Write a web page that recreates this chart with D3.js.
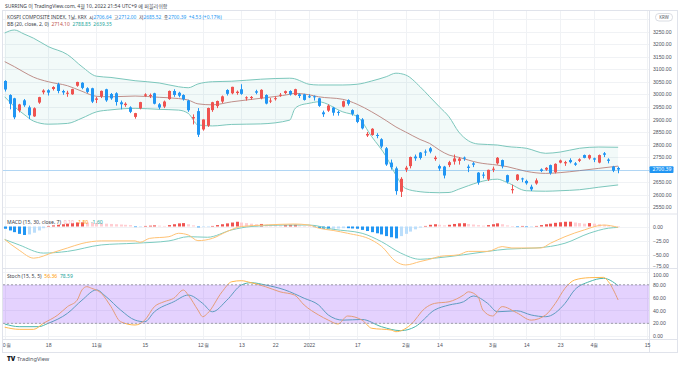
<!DOCTYPE html>
<html><head><meta charset="utf-8">
<script src="https://cdn.jsdelivr.net/npm/d3@7"></script>
<style>
html,body{margin:0;padding:0;background:#fff;}
svg{display:block;font-family:"Noto Sans","Noto Sans CJK KR",sans-serif;}
</style></head><body>
<svg id="c" width="680" height="366"></svg>
<script>
// ---------------- DATA ----------------
const dates = [
 "2021-10-01","2021-10-05","2021-10-06","2021-10-07","2021-10-08","2021-10-12","2021-10-13","2021-10-14","2021-10-15","2021-10-18",
 "2021-10-19","2021-10-20","2021-10-21","2021-10-22","2021-10-25","2021-10-26","2021-10-27","2021-10-28","2021-10-29","2021-11-01",
 "2021-11-02","2021-11-03","2021-11-04","2021-11-05","2021-11-08","2021-11-09","2021-11-10","2021-11-11","2021-11-12","2021-11-15",
 "2021-11-16","2021-11-17","2021-11-18","2021-11-19","2021-11-22","2021-11-23","2021-11-24","2021-11-25","2021-11-26","2021-11-29",
 "2021-11-30","2021-12-01","2021-12-02","2021-12-03","2021-12-06","2021-12-07","2021-12-08","2021-12-09","2021-12-10","2021-12-13",
 "2021-12-14","2021-12-15","2021-12-16","2021-12-17","2021-12-20","2021-12-21","2021-12-22","2021-12-23","2021-12-24","2021-12-27",
 "2021-12-28","2021-12-29","2021-12-30","2022-01-03","2022-01-04","2022-01-05","2022-01-06","2022-01-07","2022-01-10","2022-01-11",
 "2022-01-12","2022-01-13","2022-01-14","2022-01-17","2022-01-18","2022-01-19","2022-01-20","2022-01-21","2022-01-24","2022-01-25",
 "2022-01-26","2022-01-27","2022-01-28","2022-02-03","2022-02-04","2022-02-07","2022-02-08","2022-02-09","2022-02-10","2022-02-11",
 "2022-02-14","2022-02-15","2022-02-16","2022-02-17","2022-02-18","2022-02-21","2022-02-22","2022-02-23","2022-02-24","2022-02-25",
 "2022-02-28","2022-03-02","2022-03-03","2022-03-04","2022-03-07","2022-03-08","2022-03-10","2022-03-11","2022-03-14","2022-03-15",
 "2022-03-16","2022-03-17","2022-03-18","2022-03-21","2022-03-22","2022-03-23","2022-03-24","2022-03-25","2022-03-28","2022-03-29",
 "2022-03-30","2022-03-31","2022-04-01","2022-04-04","2022-04-05","2022-04-06","2022-04-07","2022-04-08"];
const open = [
 3053,2997,2984,2935,2976,2948,2912,2967,3008,3016, 3021,3040,3013,3002,3000,3034,3046,3024,3024,2978,
 2992,3020,3001,3004,2968,2957,2948,2910,2944,2994, 2993,3004,2960,2951,2981,3013,3006,2997,2975,2904,
 2933,2860,2875,2937,2953,2971,3017,3004,3005,3020, 2984,2985,3012,2984,2997,2972,2981,2995,3005,3013,
 2997,3000,3000,2992,2992,2984,2928,2935,2947,2930, 2951,2977,2937,2918,2900,2836,2838,2838,2821,2785,
 2728,2705,2612,2700,2714,2752,2768,2772,2785,2742, 2714,2712,2718,2732,2735,2748,2712,2725,2688,2680,
 2661,2700,2725,2738,2678,2618,2659,2665,2655,2632, 2645,2701,2700,2718,2690,2728,2725,2738,2725,2735,
 2758,2745,2745,2728,2765,2740,2712,2706.64];
const high = [
 3056,3000,2986,2962,2981,2955,2948,2990,3020,3020, 3032,3046,3018,3014,3022,3050,3048,3028,3026,2990,
 3015,3022,3005,3008,2975,2968,2952,2926,2970,3004, 3003,3006,2965,2975,3015,3020,3010,3000,2978,2920,
 2945,2900,2947,2970,2975,2995,3020,3030,3015,3040, 2992,2993,3018,3020,3000,2985,2992,3005,3015,3016,
 3022,3004,3002,3000,2995,2986,2935,2960,2950,2935, 2975,2980,2940,2920,2905,2850,2865,2845,2825,2790,
 2740,2712,2670,2715,2752,2760,2770,2780,2790,2755, 2720,2715,2735,2760,2750,2752,2720,2730,2690,2690,
 2700,2712,2750,2740,2680,2640,2682,2668,2660,2640, 2665,2705,2710,2720,2725,2740,2735,2745,2730,2745,
 2760,2760,2748,2760,2770,2745,2715,2712.00];
const low = [
 3011,2940,2901,2928,2950,2901,2910,2962,3000,2995, 3015,3004,2998,2990,2998,3030,3020,3005,2965,2965,
 2985,2970,2978,2955,2940,2950,2925,2903,2940,2990, 2985,2960,2940,2945,2978,2990,2988,2975,2930,2880,
 2830,2855,2870,2930,2945,2965,2995,3000,2998,2998, 2975,2978,3000,2980,2960,2965,2975,2990,3000,2995,
 2995,2985,2975,2985,2975,2950,2910,2930,2915,2915, 2948,2955,2915,2885,2860,2830,2835,2825,2785,2715,
 2700,2600,2591,2690,2705,2735,2740,2755,2765,2735, 2695,2665,2710,2720,2720,2735,2690,2710,2640,2665,
 2655,2690,2720,2705,2645,2605,2655,2650,2640,2615, 2640,2690,2695,2680,2685,2725,2715,2725,2715,2730,
 2745,2740,2730,2725,2750,2725,2690,2685.52];
const close = [
 3019.18,2962.17,2908.31,2959.46,2956.30,2916.38,2944.41,2988.64,3015.06,3006.68,
 3029.04,3013.13,3007.33,3006.16,3020.54,3049.08,3025.49,3009.55,2970.68,2983.22,
 3013.49,2975.71,2983.72,2969.27,2960.20,2962.46,2930.17,2924.92,2968.80,2999.52,
 2997.21,2962.42,2947.38,2971.02,3013.25,2997.33,2994.29,2980.27,2936.44,2909.32,
 2839.01,2899.72,2945.27,2968.33,2973.25,2991.72,3001.80,3029.57,3010.23,3001.66,
 2987.95,2989.39,3006.41,3017.73,2963.00,2975.03,2984.48,2998.17,3012.43,2999.55,
 3020.24,2993.29,2977.65,2988.77,2989.24,2953.97,2920.53,2954.89,2926.72,2927.38,
 2972.48,2962.09,2921.92,2890.10,2864.24,2842.28,2862.68,2834.29,2792.00,2720.39,
 2709.24,2614.49,2663.34,2707.82,2750.26,2745.06,2746.47,2768.85,2771.93,2747.71,
 2704.48,2676.54,2729.68,2744.52,2744.09,2743.80,2706.79,2719.53,2648.80,2676.76,
 2699.18,2703.52,2747.08,2713.43,2651.31,2622.40,2680.32,2661.28,2645.65,2621.53,
 2657.13,2694.51,2707.02,2686.05,2722.99,2736.67,2729.98,2729.66,2719.42,2741.07,
 2746.74,2757.65,2739.85,2757.90,2759.20,2735.03,2695.86,2700.39];

// Bollinger Bands (20, close, 2) at these bar indices
const bbIdx   = [0,2,4,6,9,13,16,19,22,27,32,36,38,40,43,47,53,59,60,61,63,65,70,73,76,79,81,83,86,88,90,92,94,96,98,102,104,108,112,115,119,123,127];
const bbUpper = [3244,3256,3240,3223,3190,3158,3110,3072,3067,3054,3045,3030,3026,3041,3050,3052,3060,3064,3062,3055,3040,3037,3037,3040,3053,3070,3084,3077,3030,2990,2950,2910,2850,2815,2802,2798,2792,2785,2765,2770,2785,2790,2789];
const bbMid   = [3130,3110,3088,3068,3050,3034,3012,2992,2990,2993,2988,2983,2977,2962,2958,2970,2984,3000,3004,3003,2998,2990,2980,2960,2930,2895,2870,2850,2820,2804,2778,2758,2749,2738,2728,2718,2712,2693,2685,2688,2696,2705,2714];
const bbLower = [2990,2951,2920,2893,2881,2884,2905,2930,2938,2944,2940,2937,2924,2878,2874,2880,2882,2897,2940,2955,2964,2970,2930,2911,2831,2751,2678,2625,2612,2609,2608,2609,2622,2636,2649,2662,2649,2616,2614,2616,2620,2630,2639];

// MACD (15, 30, close, 7)
const macdIdx = [0,3,6,10,13,16,20,27,28,30,34,36,38,40,43,46,49,54,60,63,65,68,71,76,78,81,83,86,88,90,94,96,100,103,105,109,111,113,116,120,124,127];
const macdVal = [-23,-42,-56,-46,-38,-30,-25.5,-25.5,-28,-21,-18,-12,-15,-25,-21,-9,0,2.6,4.4,2.6,-3,-7,-12,-24,-35,-62,-68,-62,-58,-53,-50,-44,-44,-35.5,-38,-38,-38,-29.6,-18,-6,2.6,-1.5];
const sigIdx  = [0,3,8,13,20,27,34,38,42,47,51,58,63,68,74,78,82,86,89,95,100,104,110,116,121,125,127];
const sigVal  = [-23,-32.6,-47,-44,-32.6,-29.6,-25.5,-18,-19,-6,0,2.6,2.6,-5,-12,-26.8,-47,-58,-56,-50,-44,-40,-38,-29.6,-12,-3,-1.6];
const histVal = [
 -4,-7,-10,-13,-15,-14,-11,-7,-3,1, 2,3,4,5,6,7,7.4,7,6.5,6, 5.5,5,4.5,4,3.5,3,2.5,-1,-0.5,1,
 1.5,2,1.5,1,2.5,4,5.5,6,4,2, -1.5,-1,-0.3,1,2.5,4,5.5,7,8.4,7, 6,5,4,4.5,3.5,3,2.5,2,2.5,3,
 3.2,2,1,0.5,-1,-2.5,-4,-5,-4,-3.5, -3,-3,-3.5,-4,-6,-8,-10,-12,-14,-17, -19,-21,-17,-13,-9,-5,-2,1,3,4,
 3,2,3,4.5,5.6,5.8,4.5,3.5,2.5,1.5, 2.5,4,5.6,4,2,0.5,-0.5,1,-1,-0.3, 1,2.5,4,5,6.5,7.5,8.4,8.5,7,6,
 5,6,5,4,3,2,1,0.1];

// Stochastic (15, 5, 5)
const kIdx = [0,3,6,8,11,13,15,16,17,18,20,22,24,27,29,31,33,35,37,38,40,41,42,45,47,49,51,54,57,60,62,65,67,69,71,74,76,80,81,84,87,89,92,95,96,98,99,101,103,106,109,112,114,116,118,121,124,125,127];
const kVal = [14,10.7,10.7,20,33,46,56,72,77,74.5,66.7,46,22.5,17.4,25,46,53.6,59,71.8,64,40.7,30.3,35.6,69,84.7,86.3,83.2,77,69,64,48.5,33,25,19,31.4,25,12.3,9.6,7,17.4,43.4,51,53.6,64,69,61.4,40.7,31.4,46,36.5,25,33,51,74.5,87.4,91,91.5,84.7,56.36];
const dIdx = [0,3,7,9,13,16,19,21,24,27,29,31,35,38,41,43,46,49,51,54,58,62,65,67,70,74,78,82,85,89,92,95,97,100,102,106,109,112,116,118,121,124,127];
const dVal = [19,14.8,14.8,20,35.6,56,72,61.4,40.7,25,22.5,38,53.6,64,51,38,56,79.6,83.2,79.6,72,59,48.5,33,25,26,14.8,8.6,14.8,40.7,48.5,53.6,62.5,51,38,39.6,33,30.3,51,72,84.7,90,78.59];

// Axes ticks / labels
const priceTicks = [2550,2600,2650,2700,2750,2800,2850,2900,2950,3000,3050,3100,3150,3200,3250];
const macdTicks  = [0,-25,-50,-75];
const stochTicks = [0,20,40,60,80,100];
const timeIdx = [0,9,19,29,41,49,56,63,73,83,90,101,108,115,122,133];
const timeLbl = ["10월","18","11월","15","12월","13","22","2022","17","2월","14","3월","14","23","4월","15"];

// ---------------- DRAW ----------------
const svg = d3.select("#c");
const UP="#ef5350", DN="#2196f3";
const plotL=3, plotR=649;
const xs = d3.scaleLinear().domain([0,132]).range([4.7, 4.7+132*4.83]);
const yP = d3.scaleLinear().domain([2550,3250]).range([207.3,31.5]);
const yM = d3.scaleLinear().domain([-75,0]).range([268.9,226.5]);
const yS = d3.scaleLinear().domain([0,100]).range([336.2,271.9]);
const panes = {main:[11,214], macd:[214,268.5], stoch:[268.5,339.5]};

// measure helper: font size giving a target width
function sizeFor(str, target){
  const t = svg.append("text").attr("font-size",10).text(str);
  const w = t.node().getComputedTextLength(); t.remove();
  return 10*target/w;
}

svg.append("rect").attr("width",680).attr("height",366).attr("fill","#fff");
const defs = svg.append("defs");
Object.entries(panes).forEach(([k,[a,b]])=>{
  defs.append("clipPath").attr("id","clip-"+k).append("rect")
    .attr("x",plotL).attr("y",a).attr("width",plotR-plotL).attr("height",b-a);
});
defs.append("clipPath").attr("id","clip-time").append("rect").attr("x",plotL).attr("y",339).attr("width",655-plotL).attr("height",14);

const grid = svg.append("g").attr("stroke","#f0f2f5").attr("stroke-width",1);
timeIdx.forEach(i=>{ const x=Math.round(xs(i))+0.5; if(x>plotR) return;
  grid.append("line").attr("x1",x).attr("x2",x).attr("y1",11).attr("y2",339.5); });
priceTicks.concat([3300]).forEach(p=>{ const y=Math.round(yP(p))+0.5;
  grid.append("line").attr("x1",plotL).attr("x2",plotR).attr("y1",y).attr("y2",y).attr("clip-path","url(#clip-main)"); });
macdTicks.forEach(p=>{ const y=Math.round(yM(p))+0.5;
  grid.append("line").attr("x1",plotL).attr("x2",plotR).attr("y1",y).attr("y2",y).attr("clip-path","url(#clip-macd)"); });
stochTicks.forEach(p=>{ const y=Math.round(yS(p))+0.5;
  grid.append("line").attr("x1",plotL).attr("x2",plotR).attr("y1",y).attr("y2",y).attr("clip-path","url(#clip-stoch)"); });

// ---- main pane
const gMain = svg.append("g").attr("clip-path","url(#clip-main)");
const bb = bbIdx.map((d,k)=>({i:d,u:bbUpper[k],m:bbMid[k],l:bbLower[k]}));
const cv = d3.curveMonotoneX;
gMain.append("path").datum(bb).attr("fill","#26a69a").attr("fill-opacity",0.06)
  .attr("d",d3.area().curve(cv).x(d=>xs(d.i)).y0(d=>yP(d.l)).y1(d=>yP(d.u)));
gMain.append("path").datum(bb).attr("fill","none").attr("stroke","#7cc7bc").attr("stroke-width",1)
  .attr("d",d3.line().curve(cv).x(d=>xs(d.i)).y(d=>yP(d.u)));
gMain.append("path").datum(bb).attr("fill","none").attr("stroke","#7cc7bc").attr("stroke-width",1)
  .attr("d",d3.line().curve(cv).x(d=>xs(d.i)).y(d=>yP(d.l)));
gMain.append("path").datum(bb).attr("fill","none").attr("stroke","#bf8f8a").attr("stroke-width",1)
  .attr("d",d3.line().curve(cv).x(d=>xs(d.i)).y(d=>yP(d.m)));

// price line
const lastC = close[close.length-1];
gMain.append("line").attr("x1",plotL).attr("x2",plotR)
  .attr("y1",Math.round(yP(lastC))+0.5).attr("y2",Math.round(yP(lastC))+0.5)
  .attr("stroke",DN).attr("stroke-opacity",0.3).attr("stroke-width",1);

// candles
const candles = dates.map((d,i)=>({i,o:open[i],h:high[i],l:low[i],c:close[i]}));
const cg = gMain.selectAll("g.c").data(candles).join("g");
cg.append("line").attr("x1",d=>Math.round(xs(d.i))+0.5).attr("x2",d=>Math.round(xs(d.i))+0.5)
  .attr("y1",d=>yP(d.h)).attr("y2",d=>yP(d.l)).attr("stroke",d=>d.c>=d.o?UP:DN).attr("stroke-width",1);
cg.append("rect").attr("x",d=>Math.round(xs(d.i))-1).attr("width",3)
  .attr("y",d=>yP(Math.max(d.o,d.c))).attr("height",d=>Math.max(1,Math.abs(yP(d.o)-yP(d.c))))
  .attr("fill",d=>d.c>=d.o?UP:DN);

// ---- MACD pane
const gM = svg.append("g").attr("clip-path","url(#clip-macd)");
gM.selectAll("rect").data(histVal).join("rect")
  .attr("x",(d,i)=>Math.round(xs(i))-1).attr("width",3)
  .attr("y",d=>Math.min(yM(d),yM(0))).attr("height",d=>Math.max(0.6,Math.abs(yM(d)-yM(0))))
  .attr("fill",(d,i)=>{const p=i>0?histVal[i-1]:d;
     if(d>=0) return d>=p?"#ef5350":"#ffcdd2"; return d<=p?"#2196f3":"#bbdefb";});
gM.append("path").datum(sigIdx.map((d,k)=>[d,sigVal[k]])).attr("fill","none").attr("stroke","#7ccbc0").attr("stroke-width",1)
  .attr("d",d3.line().curve(cv).x(d=>xs(d[0])).y(d=>yM(d[1])));
gM.append("path").datum(macdIdx.map((d,k)=>[d,macdVal[k]])).attr("fill","none").attr("stroke","#ffc275").attr("stroke-width",1)
  .attr("d",d3.line().curve(cv).x(d=>xs(d[0])).y(d=>yM(d[1])));

// ---- Stoch pane
const gS = svg.append("g").attr("clip-path","url(#clip-stoch)");
gS.append("path").datum(dIdx.map((d,k)=>[d,dVal[k]])).attr("fill","none").attr("stroke","#4db6ac").attr("stroke-width",1)
  .attr("d",d3.line().curve(cv).x(d=>xs(d[0])).y(d=>yS(d[1])));
gS.append("path").datum(kIdx.map((d,k)=>[d,kVal[k]])).attr("fill","none").attr("stroke","#ffb74d").attr("stroke-width",1)
  .attr("d",d3.line().curve(cv).x(d=>xs(d[0])).y(d=>yS(d[1])));
gS.append("rect").attr("x",plotL).attr("width",plotR-plotL).attr("y",yS(80)).attr("height",yS(20)-yS(80))
  .attr("fill","rgb(149,74,250)").attr("fill-opacity",0.25);
[80,20].forEach(v=>gS.append("line").attr("x1",plotL).attr("x2",plotR).attr("y1",yS(v)).attr("y2",yS(v))
  .attr("stroke","#8c8c96").attr("stroke-width",0.8).attr("stroke-dasharray","2,2"));

// ---- frame / separators
const sep = svg.append("g").attr("stroke","#e0e3eb").attr("stroke-width",1).attr("fill","none");
sep.append("rect").attr("x",2.5).attr("y",10.5).attr("width",675).attr("height",342);
sep.append("line").attr("x1",649.5).attr("x2",649.5).attr("y1",10.5).attr("y2",352.5);
[214,268.5,339.5].forEach(y=>sep.append("line").attr("x1",2.5).attr("x2",677.5).attr("y1",y).attr("y2",y));

// ---- axes
const axFs = sizeFor("3250.00", 19);
function styleAxis(g){ g.select(".domain").remove();
  g.selectAll("text").attr("font-size",axFs).attr("fill","#50535e"); }
svg.append("g").attr("transform","translate(651,0)")
  .call(d3.axisRight(yP).tickValues(priceTicks).tickFormat(d3.format(".2f")).tickSize(0).tickPadding(2)).call(styleAxis);
const gMacdAx = svg.append("g").attr("transform","translate(651,0)")
  .call(d3.axisRight(yM).tickValues(macdTicks).tickFormat(d3.format(".2f")).tickSize(0).tickPadding(2)).call(styleAxis);
gMacdAx.selectAll(".tick").filter(d=>d===-75).select("text").attr("dy","-0.25em");
const gStAx = svg.append("g").attr("transform","translate(651,0)")
  .call(d3.axisRight(yS).tickValues(stochTicks).tickFormat(d3.format(".2f")).tickSize(0).tickPadding(2)).call(styleAxis);
gStAx.selectAll(".tick").filter(d=>d===100).select("text").attr("dy","0.95em");
svg.append("g").attr("clip-path","url(#clip-time)")
  .append("g").attr("transform","translate(0,340)")
  .call(d3.axisBottom(xs).tickValues(timeIdx).tickFormat((d,k)=>timeLbl[k]).tickSize(0).tickPadding(3)).call(styleAxis);

// KRW box
svg.append("rect").attr("x",655.5).attr("y",13.5).attr("width",17).attr("height",7.5).attr("rx",3.5)
  .attr("fill","#fff").attr("stroke","#d1d4dc").attr("stroke-width",0.8);
svg.append("text").attr("x",664).attr("y",19).attr("text-anchor","middle").attr("font-size",axFs*0.85).attr("fill","#50535e").text("KRW");
// last price label
svg.append("rect").attr("x",649.5).attr("y",yP(lastC)-3.4).attr("width",24).attr("height",6.8).attr("rx",1).attr("fill",DN);
svg.append("text").attr("x",652.5).attr("y",yP(lastC)+1.9).attr("font-size",axFs).attr("fill","#fff").text(d3.format(".2f")(lastC));

// ---- legends (each line sized to the reference's width)
function legend(x,y,parts,width){
  const t=svg.append("text").attr("x",x).attr("y",y).attr("font-size",10).attr("xml:space","preserve");
  parts.forEach(([s,c])=>t.append("tspan").attr("fill",c).text(s));
  const w=t.node().getComputedTextLength();
  t.attr("font-size",10*width/w);
}
const TXT="#3a3d47";
legend(5,8,[["SURRING 이 TradingView.com, 4월 10, 2022 21:54 UTC+9 에 퍼블리쉬함",TXT]],163);
legend(7,18.8,[["KOSPI COMPOSITE INDEX, 1날, KRX  ",TXT],["시",TXT],["2706.64  ",DN],["고",TXT],["2712.00  ",DN],
  ["저",TXT],["2685.52  ",DN],["종",TXT],["2700.39  ",DN],["+4.53 (+0.17%)",DN]],215);
legend(7,26.2,[["BB (20, close, 2, 0)  ",TXT],["2714.10  ","#c0554c"],["2788.85  ","#26a69a"],["2639.35","#26a69a"]],105);
legend(7,224.4,[["MACD (15, 30, close, 7)  ",TXT],["0.10  ","#f7a8b2"],["-1.50  ","#ff9800"],["-1.60","#26a69a"]],96);
legend(7,278.4,[["Stoch (15, 5, 5)  ",TXT],["56.36  ","#ff9800"],["78.59","#26a69a"]],66);

// footer logo
svg.append("text").attr("x",7).attr("y",361).attr("font-size",6.5).attr("font-weight",900).attr("fill","#131722").text("TV");
svg.append("text").attr("x",17).attr("y",361).attr("font-size",5.6).attr("fill","#50535e").text("TradingView");
</script>
</body></html>
